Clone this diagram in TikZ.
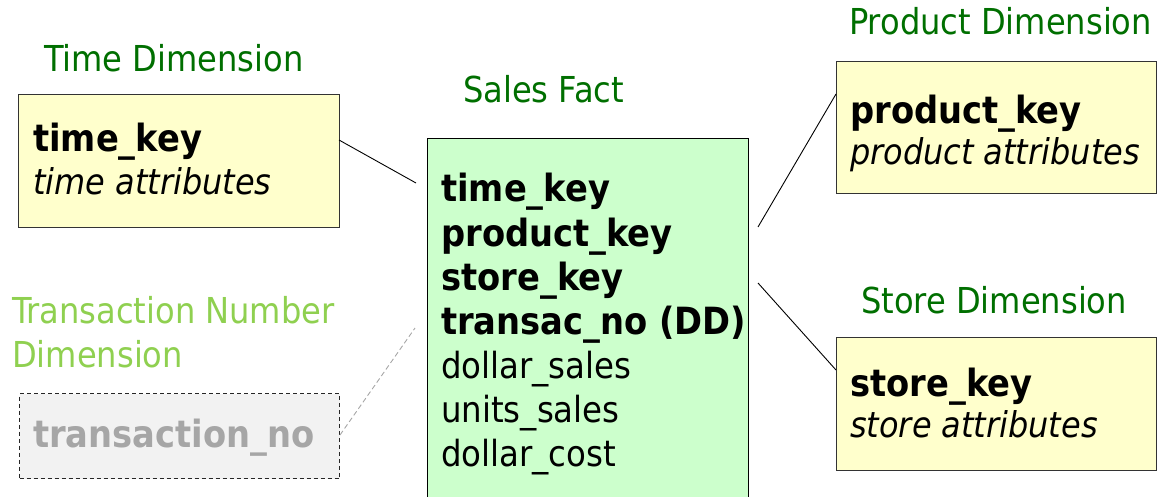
\documentclass[tikz,border=0pt]{standalone}
\usepackage{fontspec}
\setmainfont{DejaVu Sans Condensed}
\definecolor{dimfill}{HTML}{FFFFCC}
\definecolor{factfill}{HTML}{CCFFCC}
\definecolor{titlegreen}{HTML}{006F00}
\definecolor{lightgreen}{HTML}{8FD050}
\definecolor{ddfill}{HTML}{F2F2F2}
\definecolor{ddtext}{HTML}{A6A6A6}
\definecolor{boxline}{HTML}{333333}
\tikzset{
  dimbox/.style={draw=boxline, line width=1.3pt, fill=dimfill, rectangle, inner sep=0pt, anchor=north west},
  factbox/.style={draw=black, line width=1.3pt, fill=factfill, rectangle, inner sep=0pt, anchor=north west},
  ddbox/.style={draw=black!85, line width=1.1pt, dashed, dash pattern=on 4pt off 3pt, fill=ddfill, rectangle, inner sep=0pt, anchor=north west},
  title/.style={text=titlegreen, anchor=base west, inner sep=0pt, font=\fontsize{35.7}{40}\selectfont},
  ltitle/.style={text=lightgreen, anchor=base west, inner sep=0pt, font=\fontsize{35.7}{40}\selectfont},
  txt/.style={anchor=base west, inner sep=0pt, font=\fontsize{36}{40}\selectfont},
  btxt/.style={anchor=base west, inner sep=0pt, font=\fontsize{37.5}{40}\selectfont\bfseries},
  itxt/.style={anchor=base west, inner sep=0pt, font=\fontsize{35.5}{40}\selectfont\itshape},
  conn/.style={draw=black, line width=0.9pt},
  ddconn/.style={draw=ddtext, line width=0.9pt, dash pattern=on 5pt off 3pt},
}
\begin{document}
\begin{tikzpicture}[x=1pt,y=-1pt]
\useasboundingbox (0,0) rectangle (1159,497);
\clip (0,0) rectangle (1159,497);
% titles
\node[title] (ttime) at (44,72) {Time Dimension};
\node[title] (tsales) at (463,103) {Sales Fact};
\node[title] (tprod) at (849,35) {Product Dimension};
\node[title] (tstore) at (861,313) {Store Dimension};
\node[ltitle] (ttrans1) at (12,323) {Transaction Number};
\node[ltitle] (ttrans2) at (12,367) {Dimension};
% boxes
\node[dimbox, minimum width=321pt, minimum height=133pt] (timebox) at (18,94) {};
\node[dimbox, minimum width=320pt, minimum height=132pt] (prodbox) at (836,61) {};
\node[dimbox, minimum width=320pt, minimum height=133pt] (storebox) at (836,337) {};
\node[factbox, minimum width=321pt, minimum height=380pt] (factbox) at (427,138) {};
\node[ddbox, minimum width=320pt, minimum height=85pt] (ddbox) at (19,393) {};
% time box text
\node[btxt] (timekey) at (33,152) {time\_key};
\node[itxt] (timeattr) at (33,195) {time attributes};
% product
\node[btxt] (prodkey) at (850,124) {product\_key};
\node[itxt] (prodattr) at (850,165) {product attributes};
% store
\node[btxt] (storekey) at (850,396) {store\_key};
\node[itxt] (storeattr) at (850,437) {store attributes};
% transaction
\node[btxt, text=ddtext] (transno) at (33,447) {transaction\_no};
% fact
\node[btxt] (f1) at (441,202) {time\_key};
\node[btxt] (f2) at (441,246) {product\_key};
\node[btxt] (f3) at (441,290) {store\_key};
\node[btxt] (f4) at (441,334) {transac\_no (DD)};
\node[txt] (f5) at (441,378) {dollar\_sales};
\node[txt] (f6) at (441,422) {units\_sales};
\node[txt] (f7) at (441,466) {dollar\_cost};
% connectors
\coordinate (ct1) at (339,140);
\coordinate (ct2) at (416,183);
\coordinate (cp1) at (758,227);
\coordinate (cp2) at (836,94);
\coordinate (cs1) at (758,283);
\coordinate (cs2) at (836,370);
\coordinate (cd1) at (340,435);
\coordinate (cd2) at (415,328);
\draw[conn] (ct1) -- (ct2);
\draw[conn] (cp1) -- (cp2);
\draw[conn] (cs1) -- (cs2);
\draw[ddconn] (cd1) -- (cd2);
\end{tikzpicture}
\end{document}
